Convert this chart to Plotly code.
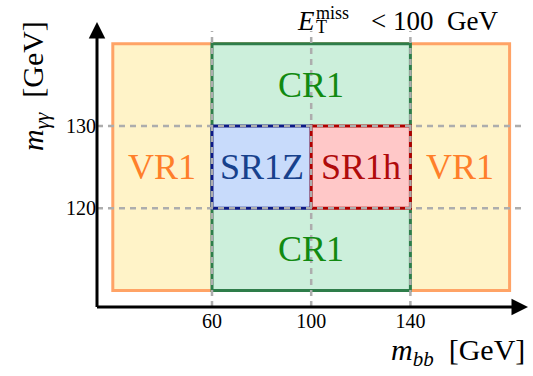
import plotly.graph_objects as go

# ---------------- data ----------------
region_names = ["VR1", "CR1", "SR1Z", "SR1h"]
region_x0 = [20, 60, 60, 100]
region_x1 = [180, 140, 100, 140]
region_y0 = [110, 110, 120, 120]
region_y1 = [140, 140, 130, 130]

label_text = ["VR1", "VR1", "CR1", "CR1", "SR1Z", "SR1h"]
label_x = [40, 160, 100, 100, 80, 120]
label_y = [125, 125, 135, 115, 125, 125]

x_ticks = [60, 100, 140]
y_ticks = [120, 130]

# ---------------- styling ----------------
FONT = "Liberation Serif"
fill_col = {"VR1": "#fff3c8", "CR1": "#ccefdb", "SR1Z": "#c8dbfb", "SR1h": "#ffc8c8"}
edge_col = {"VR1": "#ffa366", "CR1": "#2e7d4a", "SR1Z": "#0d1a85", "SR1h": "#b00000"}
text_col = {"VR1": "#ff7f2a", "CR1": "#118a11", "SR1Z": "#17418c", "SR1h": "#b00b0b"}

W, H = 533, 376
ML, MB = 97, 69
PW, PH = W - ML, H - MB
PXX = 2.48   # px per x unit
PXY = 8.23   # px per y unit
x_lo = 60 - (212 - ML) / PXX
x_hi = x_lo + PW / PXX
y_lo = 130 - (PH - 126) / PXY
y_hi = y_lo + PH / PXY


def px2x(px):
    return x_lo + (px - ML) / PXX


def py2y(py):
    return y_lo + (PH - py) / PXY


def ppx(px):
    return (px - ML) / PW


def ppy(py):
    return (PH - py) / PH


fig = go.Figure()
fig.add_trace(go.Scatter(x=[None], y=[None], showlegend=False, hoverinfo="skip"))

shapes = []
for n, a, b, c, d in zip(region_names, region_x0, region_x1, region_y0, region_y1):
    shapes.append(dict(type="rect", xref="x", yref="y", x0=a, x1=b, y0=c, y1=d,
                       fillcolor=fill_col[n], line=dict(color=edge_col[n], width=3),
                       layer="above"))

# gray dashed grid lines
grid_top = py2y(31)
grid_right = px2x(524)
for xv in x_ticks:
    shapes.append(dict(type="line", xref="x", yref="y", x0=xv, x1=xv, y0=y_lo, y1=grid_top,
                       line=dict(color="#adadad", width=2.5, dash="6px,5px"), layer="above"))
for yv in y_ticks:
    shapes.append(dict(type="line", xref="x", yref="y", x0=x_lo, x1=grid_right, y0=yv, y1=yv,
                       line=dict(color="#adadad", width=2.5, dash="6px,5px"), layer="above"))

annotations = []
for t, xv, yv in zip(label_text, label_x, label_y):
    annotations.append(dict(x=xv, y=yv, xref="x", yref="y", text=t, showarrow=False,
                            font=dict(family=FONT, size=36, color=text_col[t])))

# axis arrows
annotations.append(dict(x=px2x(528), y=y_lo, ax=x_lo - 0.6, ay=y_lo, xref="x", yref="y",
                        axref="x", ayref="y", text="", showarrow=True, arrowhead=2,
                        arrowsize=1.1, arrowwidth=3, arrowcolor="black", standoff=0))
annotations.append(dict(x=x_lo, y=py2y(22), ax=x_lo, ay=y_lo - 0.18, xref="x", yref="y",
                        axref="x", ayref="y", text="", showarrow=True, arrowhead=2,
                        arrowsize=1.1, arrowwidth=3, arrowcolor="black", standoff=0))

# axis titles (paper coords so they can sit outside the plot area)
annotations.append(dict(x=ppx(527), y=ppy(352), xref="paper", yref="paper", xanchor="right",
                        yanchor="middle", showarrow=False,
                        text="<i>m</i><sub><i>bb</i></sub>&nbsp;&nbsp;[GeV]",
                        font=dict(family=FONT, size=30, color="black")))
annotations.append(dict(x=ppx(35), y=ppy(86), xref="paper", yref="paper", textangle=-90,
                        xanchor="center", yanchor="middle", showarrow=False,
                        text="<i>m</i><sub><i>γγ</i></sub>&nbsp;&nbsp;[GeV]",
                        font=dict(family=FONT, size=30, color="black")))

# title E_T^miss < 100 GeV
annotations.append(dict(x=ppx(317), y=ppy(21), xref="paper", yref="paper", xanchor="right",
                        yanchor="middle", showarrow=False, text="<i>E</i>",
                        font=dict(family=FONT, size=27, color="black")))
annotations.append(dict(x=ppx(314), y=ppy(13), xref="paper", yref="paper", xanchor="left",
                        yanchor="middle", showarrow=False, text="miss",
                        font=dict(family=FONT, size=18, color="black")))
annotations.append(dict(x=ppx(314), y=ppy(27), xref="paper", yref="paper", xanchor="left",
                        yanchor="middle", showarrow=False, text="T",
                        font=dict(family=FONT, size=18, color="black")))
annotations.append(dict(x=ppx(369), y=ppy(21), xref="paper", yref="paper", xanchor="left",
                        yanchor="middle", showarrow=False, text="&lt;&nbsp;100&nbsp;&nbsp;GeV",
                        font=dict(family=FONT, size=27, color="black")))

fig.update_layout(
    width=W, height=H,
    margin=dict(l=ML, r=0, t=0, b=MB, pad=0),
    paper_bgcolor="white", plot_bgcolor="white",
    shapes=shapes, annotations=annotations, showlegend=False,
    xaxis=dict(range=[x_lo, x_hi], tickvals=x_ticks, ticktext=[str(v) for v in x_ticks],
               showgrid=False, zeroline=False, showline=False, ticks="",
               tickfont=dict(family=FONT, size=20, color="black"), fixedrange=True),
    yaxis=dict(range=[y_lo, y_hi], tickvals=y_ticks, ticktext=[str(v) for v in y_ticks],
               showgrid=False, zeroline=False, showline=False, ticks="",
               tickfont=dict(family=FONT, size=20, color="black"), fixedrange=True),
)

fig.write_html("out.html", config={"displayModeBar": False, "staticPlot": True},
               post_script="document.body.style.margin='0';document.body.style.overflow='hidden';")
